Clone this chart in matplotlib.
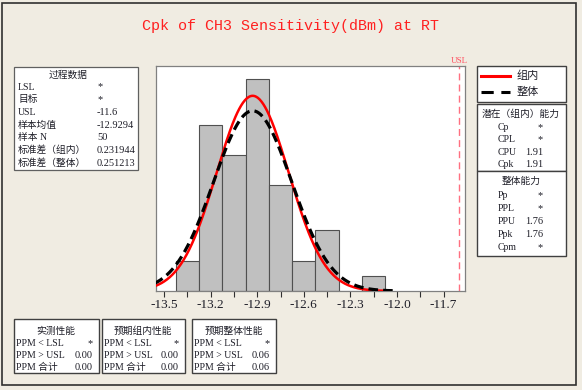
import numpy as np
import matplotlib.pyplot as plt
from matplotlib.patches import Rectangle
from matplotlib.lines import Line2D
from matplotlib.transforms import blended_transform_factory

plt.rcParams['font.family'] = ['Liberation Serif', 'Noto Sans CJK SC', 'DejaVu Sans']
plt.rcParams['axes.unicode_minus'] = False

# data
bin_mids = [-13.35, -13.20, -13.05, -12.90, -12.75, -12.60, -12.45, -12.30, -12.15]
counts = [2, 11, 9, 14, 7, 2, 4, 0, 1]
bin_width = 0.15
n_samples = 50
mean = -12.9294
sigma_within = 0.231944
sigma_overall = 0.251213
usl = -11.6
major_ticks = [-13.5, -13.2, -12.9, -12.6, -12.3, -12.0, -11.7]

process_rows = [("LSL", "*"), ("目标", "*"), ("USL", "-11.6"), ("样本均值", "-12.9294"),
                ("样本 N", "50"), ("标准差（组内）", "0.231944"), ("标准差（整体）", "0.251213")]
within_rows = [("Cp", "*"), ("CPL", "*"), ("CPU", "1.91"), ("Cpk", "1.91")]
overall_rows = [("Pp", "*"), ("PPL", "*"), ("PPU", "1.76"), ("Ppk", "1.76"), ("Cpm", "*")]
ppm_boxes = [("实测性能", ["*", "0.00", "0.00"]),
             ("预期组内性能", ["*", "0.00", "0.00"]),
             ("预期整体性能", ["*", "0.06", "0.06"])]
ppm_labels = ["PPM < LSL", "PPM > USL", "PPM 合计"]

W, H = 582, 390
bg = '#F0ECE2'
txt = '#1e1e28'
fig = plt.figure(figsize=(W / 100, H / 100), dpi=100, facecolor=bg)


def fx(x):
    return x / W


def fy(y):
    return 1 - y / H


def box(x0, y0, x1, y1, ec='#404040', lw=1.0):
    fig.patches.append(Rectangle((fx(x0), fy(y1)), fx(x1) - fx(x0), fy(y0) - fy(y1),
                                 transform=fig.transFigure, facecolor='white',
                                 edgecolor=ec, linewidth=lw, zorder=1))


def t(x, y, s, ha='left', size=7, color=txt):
    fig.text(fx(x), fy(y), s, ha=ha, va='center', fontsize=size, color=color)


# outer frame
fig.patches.append(Rectangle((fx(2), fy(385)), fx(576) - fx(2), fy(3) - fy(385),
                             transform=fig.transFigure, facecolor='none',
                             edgecolor='#303030', linewidth=1.2))

ax = fig.add_axes([fx(156), fy(291), fx(464.5) - fx(156), fy(66) - fy(291)])
ax.set_facecolor('white')
ax.bar(bin_mids, counts, width=bin_width, color='#C0C0C0', edgecolor='#505050', linewidth=0.8)

xs_w = np.linspace(mean - 4 * sigma_within, mean + 3.69 * sigma_within, 300)
ys_w = n_samples * bin_width * np.exp(-0.5 * ((xs_w - mean) / sigma_within) ** 2) / (sigma_within * np.sqrt(2 * np.pi))
xs_o = np.linspace(mean - 4 * sigma_overall, mean + 3.69 * sigma_overall, 300)
ys_o = n_samples * bin_width * np.exp(-0.5 * ((xs_o - mean) / sigma_overall) ** 2) / (sigma_overall * np.sqrt(2 * np.pi))
ax.plot(xs_w, ys_w, color='#FF0000', linewidth=1.8, zorder=3)
ax.plot(xs_o, ys_o, color='black', linewidth=2.3, dashes=(3, 1.6), zorder=4)

ax.axvline(usl, color='#FF7080', linewidth=1.0, dashes=(5, 3))
trans = blended_transform_factory(ax.transData, ax.transAxes)
ax.text(usl, 1.005, "USL", transform=trans, ha='center', va='bottom', fontsize=6.5, color='#FF5060', clip_on=False)

ax.set_xlim(-13.5515, -11.566)
ax.set_ylim(0, 14.87)
ax.set_xticks(major_ticks)
ax.set_xticklabels([f"{v:.1f}" for v in major_ticks])
ax.set_xticks([v + 0.15 for v in major_ticks[:-1]], minor=True)
ax.tick_params(axis='x', which='both', direction='out', length=4, width=0.8, color='#303030',
               labelsize=9.5, labelcolor=txt, pad=2)
ax.set_yticks([])
for sp in ax.spines.values():
    sp.set_color('#808080')
    sp.set_linewidth(0.9)

fig.text(fx(290), fy(26), "Cpk of CH3 Sensitivity(dBm) at RT", ha='center', va='center',
         fontsize=10.8, color='#FF2020', family='Liberation Mono')

# process data box
box(14, 67, 138, 170, ec='#606060', lw=0.9)
t(68, 75, "过程数据", ha='center')
for i, (lab, val) in enumerate(process_rows):
    y = 87 + i * 12.7
    t(18, y, lab)
    t(97, y, val, size=7.5)

# legend box
box(476.5, 65.5, 566, 101.5)
fig.lines.append(Line2D([fx(481), fx(510)], [fy(76), fy(76)], transform=fig.transFigure,
                        color='#FF0000', linewidth=2.2))
fig.lines.append(Line2D([fx(481), fx(510)], [fy(92), fy(92)], transform=fig.transFigure,
                        color='black', linewidth=2.2, dashes=(4, 2.5)))
t(517, 76, "组内", size=8)
t(517, 92, "整体", size=8)

# capability boxes
box(476.5, 104.5, 566, 170.5)
box(476.5, 170.5, 566, 256)
t(521, 114, "潜在（组内）能力", ha='center')
for i, (lab, val) in enumerate(within_rows):
    y = 127.5 + i * 12.3
    t(498, y, lab)
    t(543, y, val, ha='right', size=7.5)
t(521, 181, "整体能力", ha='center')
for i, (lab, val) in enumerate(overall_rows):
    y = 196 + i * 12.8
    t(498, y, lab)
    t(543, y, val, ha='right', size=7.5)

# PPM boxes
ppm_x = [(13.5, 98.5), (101.5, 185), (191.5, 275.5)]
for (x0, x1), (title, vals) in zip(ppm_x, ppm_boxes):
    box(x0, 319, x1, 373)
    t((x0 + x1) / 2, 331, title, ha='center')
    for i, (lab, val) in enumerate(zip(ppm_labels, vals)):
        y = 343.5 + i * 12
        t(x0 + 3, y, lab)
        t(x1 - 6, y, val, ha='right', size=7.5)

fig.savefig('out.png', dpi=100, facecolor=bg)
